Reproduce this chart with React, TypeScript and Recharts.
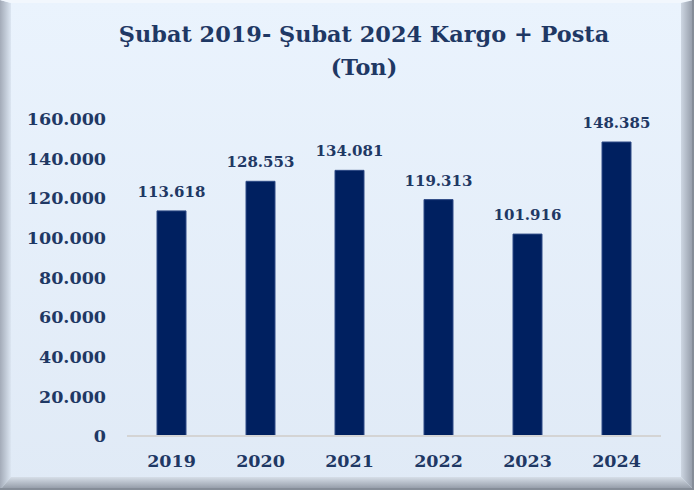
import React from 'react';
import { BarChart, Bar, XAxis, YAxis, LabelList } from 'recharts';

const years = ['2019', '2020', '2021', '2022', '2023', '2024'];
const tonnage = [113618, 128553, 134081, 119313, 101916, 148385];
const yTicks = [0, 20000, 40000, 60000, 80000, 100000, 120000, 140000, 160000];
const titleLine1 = 'Şubat 2019- Şubat 2024 Kargo + Posta';
const titleLine2 = '(Ton)';

const data = years.map((y, i) => ({ year: y, value: tonnage[i] }));

const fmt = (v: number) => String(Math.round(v)).replace(/\B(?=(\d{3})+(?!\d))/g, '.');

const FONT = '"DejaVu Serif", "Liberation Serif", serif';
const TEXT = '#1F3864';
const BAR = '#002060';

const W = 694;
const H = 490;

export default function App() {
  return (
    <div style={{ position: 'absolute', left: 0, top: 0, width: W, height: H, overflow: 'hidden', fontFamily: FONT }}>
      {/* panel */}
      <div style={{ position: 'absolute', inset: 0, background: 'linear-gradient(to bottom, #EAF3FD, #E0EAF6)' }} />
      {/* left bevel */}
      <div style={{ position: 'absolute', left: 0, top: 0, width: 11, height: H, clipPath: 'polygon(0 0, 11px 3px, 11px 477px, 0 490px)', background: 'linear-gradient(to right, #A3ABB8, #DCE6F2)' }} />
      {/* top bevel */}
      <div style={{ position: 'absolute', left: 0, top: 0, width: W, height: 3, clipPath: 'polygon(0 0, 694px 0, 681px 3px, 11px 3px)', background: '#F2F7FD' }} />
      {/* right bevel */}
      <div style={{ position: 'absolute', left: W - 13, top: 0, width: 13, height: H, clipPath: 'polygon(13px 0, 0 3px, 0 477px, 13px 490px)', background: 'linear-gradient(to right, #CDD6E2, #8D95A2)' }} />
      {/* bottom bevel */}
      <div style={{ position: 'absolute', left: 0, top: H - 13, width: W, height: 13, clipPath: 'polygon(0 13px, 11px 0, 681px 0, 694px 13px)', background: 'linear-gradient(to bottom, #D6DEE8, #8C94A0)' }} />
      {/* outer border */}
      <div style={{ position: 'absolute', inset: 0, boxSizing: 'border-box', borderRight: '2px solid #858D98', borderBottom: '2px solid #858D98' }} />

      <div style={{ position: 'absolute', left: 0, top: 18, width: 728, textAlign: 'center', color: TEXT, fontWeight: 700, fontSize: 22.4, lineHeight: '33px' }}>
        <div>{titleLine1}</div>
        <div>{titleLine2}</div>
      </div>

      <div style={{ position: 'absolute', left: 0, top: 0 }}>
        <BarChart width={W} height={H} data={data} margin={{ top: 119, right: 33, bottom: 0, left: 0 }} barSize={29}>
          <XAxis
            dataKey="year"
            height={54}
            tickLine={false}
            axisLine={{ stroke: '#D4D4D4', strokeWidth: 2 }}
            tickMargin={13}
            tick={{ fill: TEXT, fontSize: 17.5, fontWeight: 700, fontFamily: FONT }}
          />
          <YAxis
            width={127}
            domain={[0, 160000]}
            ticks={yTicks}
            interval={0}
            tickFormatter={fmt}
            axisLine={false}
            tickLine={false}
            tickMargin={15}
            tick={{ fill: TEXT, fontSize: 17.5, fontWeight: 700, fontFamily: FONT }}
          />
          <Bar dataKey="value" fill={BAR} stroke="#2E4A86" strokeWidth={1} isAnimationActive={false}>
            <LabelList
              dataKey="value"
              position="top"
              offset={14}
              formatter={(v: any) => fmt(Number(v))}
              style={{ fill: TEXT, fontSize: 15, fontWeight: 700, fontFamily: FONT }}
            />
          </Bar>
        </BarChart>
      </div>
    </div>
  );
}
